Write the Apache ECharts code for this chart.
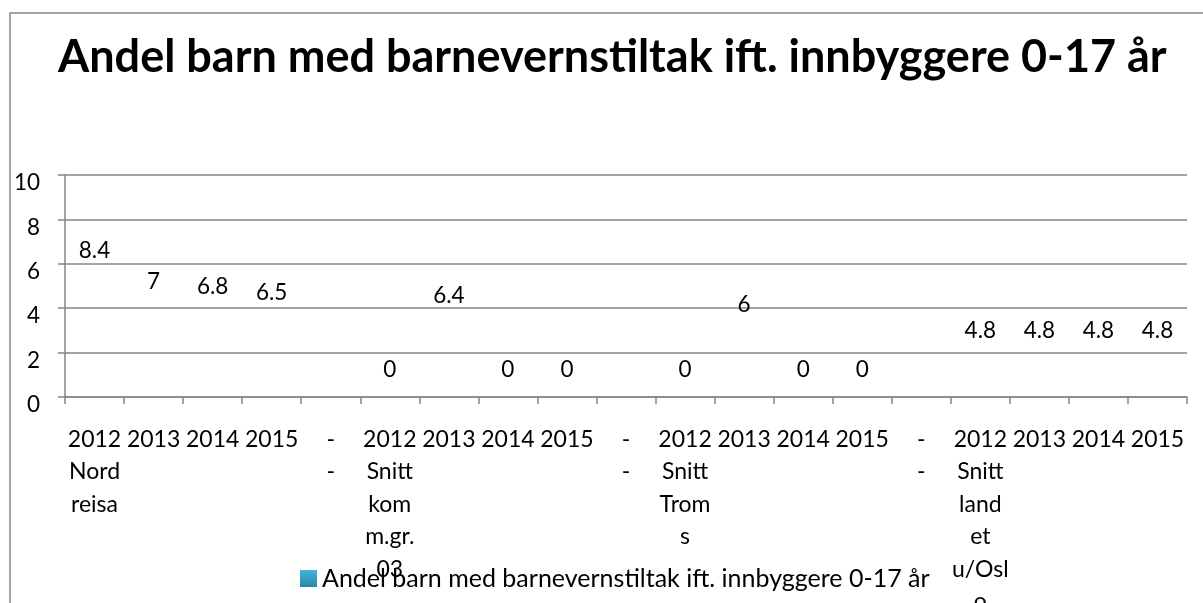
<!DOCTYPE html>
<html>
<head>
<meta charset="utf-8">
<script src="https://cdn.jsdelivr.net/npm/echarts@6/dist/echarts.min.js"></script>
<style>
html,body{margin:0;padding:0;background:#fff;}
#chart{width:1203px;height:603px;}
</style>
</head>
<body>
<div id="chart"></div>
<script>
const titleText = 'Andel barn med barnevernstiltak ift. innbyggere 0-17 år';
const seriesName = 'Andel barn med barnevernstiltak ift. innbyggere 0-17 år';
const categories = [
  '2012\nNord\nreisa', '2013', '2014', '2015', '-\n-',
  '2012\nSnitt\nkom\nm.gr.\n03', '2013', '2014', '2015', '-\n-',
  '2012\nSnitt\nTrom\ns', '2013', '2014', '2015', '-\n-',
  '2012\nSnitt\nland\net\nu/Osl\no', '2013', '2014', '2015'
];
const values = [8.4, 7, 6.8, 6.5, null, 0, 6.4, 0, 0, null, 0, 6, 0, 0, null, 4.8, 4.8, 4.8, 4.8];
const yTicks = [0, 2, 4, 6, 8, 10];

const FONT = 'Lato';
const chart = echarts.init(document.getElementById('chart'), null, {renderer: 'canvas'});

const data = values.map(v => {
  if (v === null) return '-';
  if (v === 0) return {value: 0, label: {position: 'top', distance: 16}};
  return v;
});

chart.setOption({
  animation: false,
  backgroundColor: '#fff',
  textStyle: {fontFamily: FONT},
  title: {
    text: titleText,
    left: 53,
    top: 30,
    textStyle: {fontFamily: FONT, fontSize: 45, fontWeight: 'bold', color: '#000'}
  },
  graphic: [{
    type: 'rect',
    shape: {x: 10, y: 13, width: 1200, height: 620},
    style: {fill: null, stroke: '#868686', lineWidth: 1.5},
    silent: true
  }],
  legend: {
    data: [{name: seriesName, itemStyle: {color: new echarts.graphic.LinearGradient(0, 0, 0, 1, [
      {offset: 0, color: '#3fb6dc'}, {offset: 1, color: '#2a87a8'}])}}],
    left: 295,
    top: 564,
    padding: [2, 5],
    icon: 'rect',
    itemWidth: 17,
    itemHeight: 17,
    itemGap: 6,
    textStyle: {fontFamily: FONT, fontSize: 25, color: '#000'}
  },
  grid: {left: 65, right: 16, top: 175, bottom: 206, containLabel: false, outerBoundsMode: 'none'},
  xAxis: {
    type: 'category',
    data: categories,
    axisLine: {show: true, lineStyle: {color: '#868686', width: 1.5}},
    axisTick: {show: true, alignWithLabel: false, interval: 0, length: 7, lineStyle: {color: '#868686', width: 1.5}},
    axisLabel: {interval: 0, fontFamily: FONT, fontSize: 23, color: '#000', lineHeight: 32.5, margin: 26},
    splitLine: {show: false}
  },
  yAxis: {
    type: 'value',
    min: yTicks[0],
    max: yTicks[yTicks.length - 1],
    interval: 2,
    axisLine: {show: true, lineStyle: {color: '#868686', width: 1.5}},
    axisTick: {show: true, length: 7, lineStyle: {color: '#868686', width: 1.5}},
    axisLabel: {fontFamily: FONT, fontSize: 22.5, color: '#000', margin: 25, verticalAlign: 'top', lineHeight: 16},
    splitLine: {show: true, lineStyle: {color: '#868686', width: 1.5}}
  },
  series: [{
    name: seriesName,
    type: 'bar',
    data: data,
    barWidth: '60%',
    itemStyle: {color: 'rgba(0,0,0,0)'},
    label: {
      show: true,
      position: 'insideTop',
      distance: 29,
      fontFamily: FONT,
      fontSize: 22.5,
      color: '#000'
    }
  }]
});
</script>
</body>
</html>
